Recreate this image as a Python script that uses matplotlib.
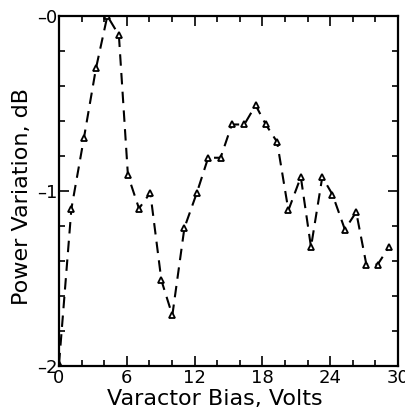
import matplotlib
matplotlib.use("Agg")
import matplotlib.pyplot as plt
from matplotlib.ticker import MultipleLocator

bias_volts = [0.0, 1.1, 2.2, 3.27, 4.28, 5.3, 6.1, 7.08, 8.08, 9.06, 10.03, 11.1,
              12.2, 13.2, 14.3, 15.3, 16.4, 17.4, 18.3, 19.3, 20.3, 21.4, 22.3,
              23.3, 24.2, 25.3, 26.3, 27.2, 28.2, 29.2]
power_db = [-1.99, -1.10, -0.70, -0.30, 0.0, -0.11, -0.91, -1.10, -1.01, -1.51,
            -1.71, -1.21, -1.01, -0.81, -0.81, -0.62, -0.62, -0.51, -0.62, -0.72,
            -1.11, -0.92, -1.32, -0.92, -1.02, -1.22, -1.12, -1.42, -1.42, -1.32]
x_ticks = [0, 6, 12, 18, 24, 30]
y_ticks = [0, -1, -2]
y_tick_labels = ["\u20130", "\u20131", "\u20132"]

plt.rcParams['font.family'] = ['DejaVu Sans']
fig = plt.figure(figsize=(4.06, 4.09), dpi=100)
ax = fig.add_axes([0.1453, 0.105, 0.835, 0.856])

ax.plot(bias_volts, power_db, color='black', linestyle=(0, (5.5, 3.5)), linewidth=1.5,
        marker='^', markersize=5, markerfacecolor='white', markeredgecolor='black',
        markeredgewidth=1.3)

ax.set_xlim(0, 30)
ax.set_ylim(-2, 0)
ax.set_xticks(x_ticks)
ax.set_xticklabels([str(t) for t in x_ticks])
ax.set_yticks(y_ticks)
ax.set_yticklabels(y_tick_labels)
ax.xaxis.set_minor_locator(MultipleLocator(2))
ax.yaxis.set_minor_locator(MultipleLocator(0.2))
ax.tick_params(which='both', direction='in', top=True, right=True, width=1.2,
               labelsize=13, pad=1)
ax.tick_params(axis='x', which='major', pad=2)
ax.tick_params(which='major', length=7)
ax.tick_params(which='minor', length=4)
for s in ax.spines.values():
    s.set_linewidth(1.6)

ax.set_xlabel("Varactor Bias, Volts", fontsize=16)
ax.set_ylabel("Power Variation, dB", fontsize=16)
ax.xaxis.set_label_coords(0.46, -0.065)
ax.yaxis.set_label_coords(-0.08, 0.485)

fig.savefig("out.png", dpi=100)
